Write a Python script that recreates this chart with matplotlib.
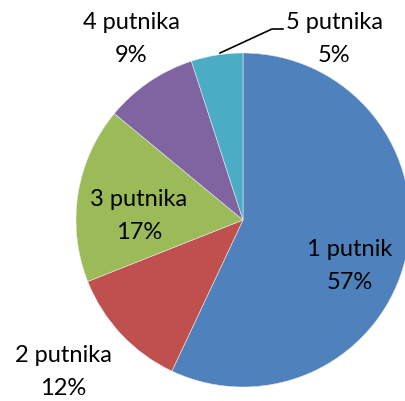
import matplotlib.pyplot as plt

W, H = 405, 401

labels = ["1 putnik", "2 putnika", "3 putnika", "4 putnika", "5 putnika"]
shares = [57, 12, 17, 9, 5]
colors = ["#4F81BD", "#C0504D", "#9BBB59", "#8064A2", "#4BACC6"]

# label anchor points in pixels (x, y from top)
label_pos = [(350, 266), (63, 372), (139, 216), (131, 39), (334, 39)]

fig = plt.figure(figsize=(W / 100, H / 100), dpi=100)
ax = fig.add_axes([0, 0, 1, 1])

ax.pie(shares, colors=colors, startangle=90, counterclock=False,
       center=(243, H - 220), radius=167,
       wedgeprops=dict(linewidth=0.4, edgecolor="#e8e8e8"))

for lab, val, (x, y) in zip(labels, shares, label_pos):
    ax.text(x, H - y, "%s\n%d%%" % (lab, val), ha="center", va="center",
            fontsize=17, family="Lato", linespacing=1.7, color="black")

# leader line for the small slice
ax.plot([220, 272, 283], [H - 53, H - 29, H - 29], color="black", lw=1.2)

ax.set_xlim(0, W)
ax.set_ylim(0, H)
ax.set_aspect("equal")
ax.axis("off")

fig.savefig("out.png", dpi=100)
